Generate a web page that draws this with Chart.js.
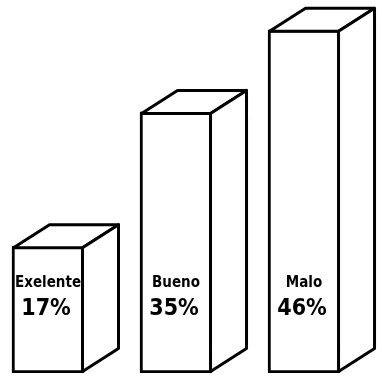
<!DOCTYPE html>
<html>
<head>
<meta charset="utf-8">
<style>
  html, body { margin: 0; padding: 0; background: #fff; }
  #wrap { width: 382px; height: 380px; }
</style>
</head>
<body>
<div id="wrap"><canvas id="bars" width="382" height="380"></canvas></div>
<script src="https://cdn.jsdelivr.net/npm/chart.js"></script>
<script>
  const labels = ["Exelente", "Bueno", "Malo"];
  const values = [17, 35, 46];
  const valueLabels = ["17%", "35%", "46%"];

  // fake 3D: side + top faces drawn from each bar's own geometry
  const box3d = {
    id: "box3d",
    afterDatasetsDraw(chart) {
      const c = chart.ctx;
      const meta = chart.getDatasetMeta(0);
      const yScale = chart.scales.y;
      const dx = 36, dy = 23;
      c.save();
      c.lineWidth = 3;
      c.strokeStyle = "#000";
      c.lineJoin = "round";
      meta.data.forEach((bar, i) => {
        const L = bar.x - bar.width / 2 + 1.5;
        const R = bar.x + bar.width / 2 - 1.5;
        const T = bar.y + 1.5;
        const B = bar.base - 1.5;
        c.fillStyle = "#fff";
        // top
        c.beginPath();
        c.moveTo(L, T);
        c.lineTo(L + dx, T - dy);
        c.lineTo(R + dx, T - dy);
        c.lineTo(R, T);
        c.closePath();
        c.fill();
        c.stroke();
        // side
        c.beginPath();
        c.moveTo(R, T);
        c.lineTo(R + dx, T - dy);
        c.lineTo(R + dx, B - dy);
        c.lineTo(R, B);
        c.closePath();
        c.fill();
        c.stroke();

        c.fillStyle = "#000";
        c.textAlign = "center";
        c.textBaseline = "middle";
        c.font = "bold 15px 'DejaVu Sans Condensed', 'DejaVu Sans'";
        c.fillText(labels[i], bar.x, yScale.getPixelForValue(12), bar.width - 4);
        c.font = "bold 23px 'DejaVu Sans Condensed', 'DejaVu Sans'";
        c.fillText(valueLabels[i], bar.x - 2, yScale.getPixelForValue(8.6));
      });
      c.restore();
    }
  };

  new Chart(document.getElementById("bars"), {
    type: "bar",
    data: {
      datasets: [{
        data: values.map((v, i) => ({ x: i, y: v })),
        backgroundColor: "#fff",
        borderColor: "#000",
        borderWidth: 3,
        borderSkipped: false,
        barThickness: 72
      }]
    },
    options: {
      responsive: false,
      animation: false,
      layout: { padding: { top: 0, bottom: 7, left: 0, right: 0 } },
      scales: {
        x: { type: "linear", offset: false, min: -0.375, max: 2.609, display: false },
        y: { min: 0, max: 50, display: false }
      },
      plugins: { legend: { display: false }, tooltip: { enabled: false } }
    },
    plugins: [box3d]
  });
</script>
</body>
</html>
